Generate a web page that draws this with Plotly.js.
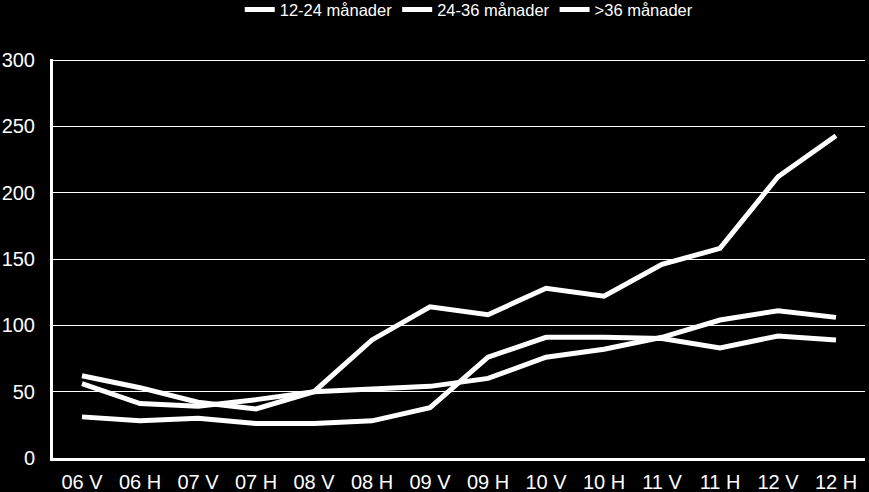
<!DOCTYPE html>
<html>
<head>
<meta charset="utf-8">
<script src="https://cdn.plot.ly/plotly-3.0.1.min.js"></script>
<style>
html,body{margin:0;padding:0;background:#000;}
#chart{width:869px;height:492px;}
</style>
</head>
<body>
<div id="chart"></div>
<script>
const periods = ['06 V','06 H','07 V','07 H','08 V','08 H','09 V','09 H','10 V','10 H','11 V','11 H','12 V','12 H'];
const m12_24 = [62, 53, 42, 37, 50, 89, 114, 108, 128, 122, 146, 158, 212, 243];
const m24_36 = [56, 41, 39, 44, 50, 52, 54, 60, 76, 82, 91, 104, 111, 106];
const m36plus = [31, 28, 30, 26, 26, 28, 38, 76, 91, 91, 90, 83, 92, 89];
const yTicks = [0, 50, 100, 150, 200, 250, 300];

const mk = (name, y) => ({type:'scatter', mode:'lines', name, x:periods, y, line:{color:'#fff', width:5}, hoverinfo:'x+y'});
const traces = [mk('12-24 månader', m12_24), mk('24-36 månader', m24_36), mk('>36 månader', m36plus)];

const layout = {
  width:869, height:492,
  margin:{l:53, r:4, t:59, b:34, autoexpand:false},
  paper_bgcolor:'#000', plot_bgcolor:'#000',
  font:{family:'Liberation Sans, Arial', color:'#fff', size:20},
  showlegend:true,
  legend:{orientation:'h', x:0.23, xanchor:'left', xref:'paper', yref:'container', y:0.98, yanchor:'middle', font:{size:16.5, color:'#fff'}, tracegroupgap:0},
  xaxis:{type:'category', range:[-0.5, 13.5], showgrid:false, showline:true, linecolor:'#fff', linewidth:3, ticks:'', ticklabelstandoff:4, tickfont:{size:20}, fixedrange:true},
  yaxis:{range:[0, 300.8], tickvals:yTicks, showgrid:true, gridcolor:'#fff', gridwidth:1, showline:true, linecolor:'#fff', linewidth:3, zeroline:false, ticks:'', ticklabelstandoff:11, tickfont:{size:20}, fixedrange:true}
};

Plotly.newPlot('chart', traces, layout, {displayModeBar:false, staticPlot:true});
</script>
</body>
</html>
